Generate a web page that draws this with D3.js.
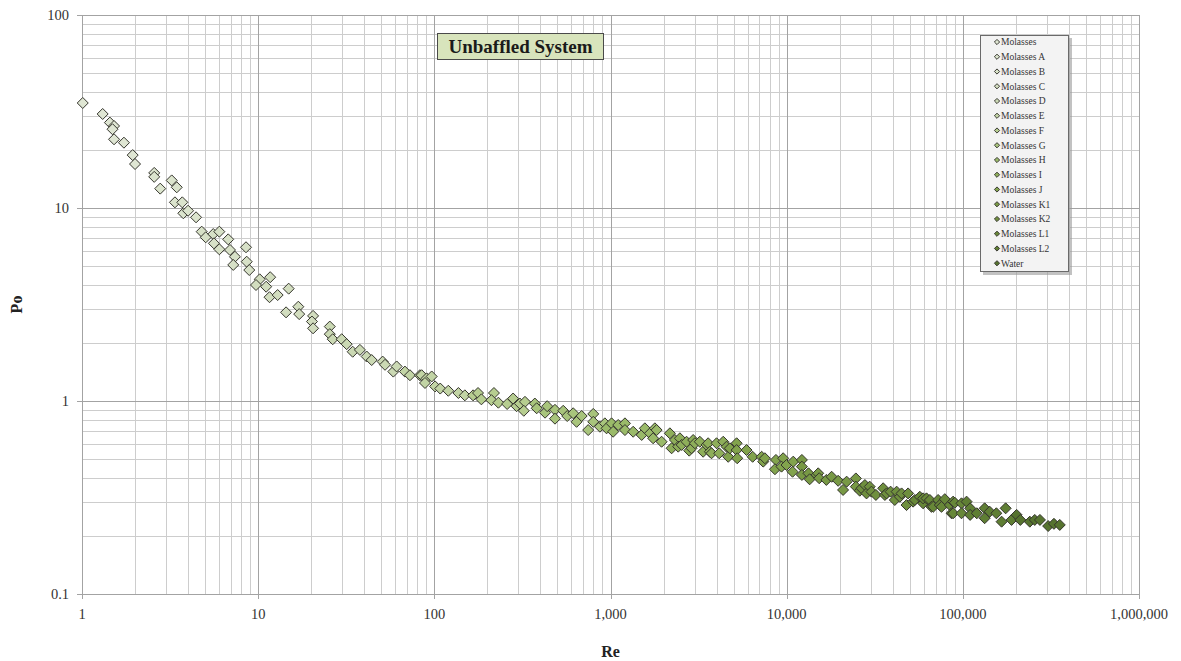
<!DOCTYPE html>
<html>
<head>
<meta charset="utf-8">
<script src="https://cdn.jsdelivr.net/npm/d3@7"></script>
<style>
    html, body { margin: 0; padding: 0; background: #ffffff; }
    svg { display: block; }
</style>
</head>
<body>
<svg id="chart" width="1181" height="661"></svg>
<script>
// Re / Po readings, one array per run
var molasses = [[1.01, 35.0], [1.31, 30.7], [1.44, 27.7], [1.52, 26.6], [1.49, 25.6], [1.52, 22.7], [1.73, 21.8], [1.94, 18.8], [2.0, 16.9]];
var molassesA = [[2.57, 15.2], [2.57, 14.5], [2.78, 12.6], [3.23, 13.9], [3.45, 12.8], [3.37, 10.7], [3.71, 10.7], [3.76, 9.39], [4.0, 9.68], [4.44, 8.95]];
var molassesB = [[4.78, 7.54], [5.04, 7.05], [5.56, 7.33], [6.02, 7.54], [5.61, 6.56], [6.02, 6.11], [6.76, 6.88], [6.92, 6.06], [7.38, 5.59], [7.22, 5.07], [8.53, 6.26], [8.61, 5.27], [8.9, 4.77]];
var molassesC = [[10.2, 4.27], [9.72, 3.99], [11.1, 3.91], [11.7, 4.38], [11.6, 3.45], [12.9, 3.54], [14.9, 3.82], [14.4, 2.88], [16.9, 3.08], [17.1, 2.82], [20.5, 2.76], [20.2, 2.58], [20.5, 2.38]];
var molassesD = [[25.5, 2.43], [25.5, 2.22], [26.5, 2.09], [29.8, 2.09], [31.8, 1.97], [34.4, 1.80], [37.8, 1.84], [41.3, 1.70], [44.1, 1.63], [50.9, 1.60], [52.5, 1.54], [58.5, 1.42], [61.1, 1.51]];
var molassesE = [[68.1, 1.42], [72.7, 1.36], [82.8, 1.36], [84.7, 1.36], [90.4, 1.31], [96.6, 1.34], [88.5, 1.24], [101, 1.19], [108, 1.16], [120, 1.13], [137, 1.10], [149, 1.07]];
var molassesF = [[166, 1.07], [177, 1.10], [185, 1.02], [218, 1.10], [211, 1.01], [231, 0.98], [259, 0.965], [280, 1.03], [293, 0.94], [306, 0.97], [327, 0.99], [322, 0.89]];
var molassesG = [[372, 0.97], [381, 0.917], [425, 0.87], [437, 0.94], [484, 0.90], [484, 0.81], [539, 0.89], [568, 0.836], [614, 0.864], [642, 0.78], [686, 0.836], [747, 0.707], [798, 0.857], [798, 0.78], [871, 0.736], [929, 0.766]];
var molassesH = [[950, 0.722], [1014, 0.766], [1035, 0.693], [1106, 0.751], [1208, 0.766], [1208, 0.707], [1345, 0.693], [1503, 0.667], [1567, 0.722], [1675, 0.68], [1746, 0.641], [1786, 0.722], [1827, 0.707], [1950, 0.615]];
var molassesI = [[2173, 0.68], [2223, 0.569], [2322, 0.628], [2477, 0.641], [2423, 0.58], [2535, 0.592], [2703, 0.615], [2798, 0.553], [2885, 0.569], [2946, 0.628], [3013, 0.604], [3214, 0.615], [3357, 0.546], [3510, 0.592], [3583, 0.604], [3665, 0.546], [3746, 0.536], [4000, 0.604], [4140, 0.536], [4365, 0.615]];
var molassesJ = [[4560, 0.58], [4658, 0.514], [4760, 0.569], [5200, 0.604], [5200, 0.557], [5240, 0.505], [5920, 0.557], [6410, 0.514], [7210, 0.514], [7360, 0.485], [7520, 0.505], [8690, 0.495], [8580, 0.443], [9550, 0.505], [9350, 0.457], [9980, 0.466], [10800, 0.43], [10900, 0.485]];
var molassesK1 = [[12200, 0.495], [12200, 0.457], [12200, 0.414], [13300, 0.422], [13500, 0.393], [14800, 0.414], [15100, 0.422], [15300, 0.398], [16800, 0.39], [18000, 0.405], [19600, 0.386], [20900, 0.346], [21900, 0.382], [24700, 0.397], [24700, 0.36]];
var molassesK2 = [[26000, 0.343], [26600, 0.353], [27800, 0.367], [28400, 0.332], [29600, 0.36], [30300, 0.339], [32100, 0.326], [35300, 0.353], [36100, 0.326], [36900, 0.332], [38900, 0.339], [41100, 0.307], [42100, 0.339], [43900, 0.319], [44900, 0.332], [48900, 0.332], [47900, 0.289]];
var molassesL1 = [[52200, 0.301], [53400, 0.307], [57000, 0.319], [59500, 0.295], [59500, 0.313], [62200, 0.313], [65000, 0.307], [66400, 0.283], [67900, 0.283], [72400, 0.307], [74000, 0.289], [75700, 0.283], [79000, 0.31], [84400, 0.289], [86300, 0.262], [88100, 0.301], [88100, 0.262], [90100, 0.297], [98300, 0.295], [98300, 0.262]];
var molassesL2 = [[105000, 0.301], [110000, 0.278], [110000, 0.257], [120000, 0.262], [133000, 0.278], [133000, 0.247], [142000, 0.267], [155000, 0.262], [166000, 0.237], [175000, 0.278], [189000, 0.242]];
var water = [[202000, 0.257], [212000, 0.242], [240000, 0.237], [256000, 0.242], [274000, 0.242], [305000, 0.225], [329000, 0.231], [355000, 0.228]];

var seriesNames = ['Molasses', 'Molasses A', 'Molasses B', 'Molasses C', 'Molasses D', 'Molasses E', 'Molasses F', 'Molasses G',
    'Molasses H', 'Molasses I', 'Molasses J', 'Molasses K1', 'Molasses K2', 'Molasses L1', 'Molasses L2', 'Water'];
var seriesData = [molasses, molassesA, molassesB, molassesC, molassesD, molassesE, molassesF, molassesG,
    molassesH, molassesI, molassesJ, molassesK1, molassesK2, molassesL1, molassesL2, water];
var seriesColors = ['#dfe6d3', '#dbe4cd', '#d7e1c7', '#d2ddbf', '#cbd9b4', '#c2d4a5', '#b6cd90', '#a8c47c',
    '#9aba69', '#8eae5a', '#82a34d', '#789945', '#6f8f3e', '#678738', '#5f7e34', '#56732f'];

var xTickLabels = [1, 10, 100, 1000, 10000, 100000, 1000000];
var yTickLabels = [0.1, 1, 10, 100];

var chartTitle = 'Unbaffled System';
var xTitle = 'Re';
var yTitle = 'Po';

var config = {
    width: 1181,
    height: 661,
    margin: {top: 15, right: 42, bottom: 67, left: 82},
    font: '"Liberation Serif", "Times New Roman", serif'
};

var svg = d3.select('#chart');
var plotW = config.width - config.margin.left - config.margin.right;
var plotH = config.height - config.margin.top - config.margin.bottom;

var x = d3.scaleLog().domain([1, 1000000]).range([config.margin.left, config.margin.left + plotW]);
var y = d3.scaleLog().domain([0.1, 100]).range([config.margin.top + plotH, config.margin.top]);

function isMajor(v) {
    var l = Math.log10(v);
    return Math.abs(l - Math.round(l)) < 1e-9;
}

// grid: minor first, majors on top
var grid = svg.append('g').attr('class', 'grid');
var xGrid = x.ticks();
var yGrid = y.ticks();

grid.selectAll('.vminor')
    .data(xGrid.filter(function (d) { return !isMajor(d); }))
    .enter()
    .append('line')
    .attr('x1', function (d) { return Math.round(x(d)) + 0.5; })
    .attr('x2', function (d) { return Math.round(x(d)) + 0.5; })
    .attr('y1', y(100))
    .attr('y2', y(0.1))
    .style('stroke', '#cdcdcd');

grid.selectAll('.hminor')
    .data(yGrid.filter(function (d) { return !isMajor(d); }))
    .enter()
    .append('line')
    .attr('x1', x(1))
    .attr('x2', x(1000000))
    .attr('y1', function (d) { return Math.round(y(d)) + 0.5; })
    .attr('y2', function (d) { return Math.round(y(d)) + 0.5; })
    .style('stroke', '#cdcdcd');

grid.selectAll('.vmajor')
    .data(xTickLabels)
    .enter()
    .append('line')
    .attr('x1', function (d) { return Math.round(x(d)) + 0.5; })
    .attr('x2', function (d) { return Math.round(x(d)) + 0.5; })
    .attr('y1', y(100))
    .attr('y2', y(0.1) + 5)
    .style('stroke', '#a3a3a3');

grid.selectAll('.hmajor')
    .data(yTickLabels)
    .enter()
    .append('line')
    .attr('x1', x(1) - 5)
    .attr('x2', x(1000000))
    .attr('y1', function (d) { return Math.round(y(d)) + 0.5; })
    .attr('y2', function (d) { return Math.round(y(d)) + 0.5; })
    .style('stroke', '#a3a3a3');

// tick labels
var labels = svg.append('g').attr('class', 'tick-labels')
    .style('font-family', config.font)
    .style('font-size', '14.5px')
    .style('fill', '#333333');

labels.selectAll('.xl')
    .data(xTickLabels)
    .enter()
    .append('text')
    .attr('x', function (d) { return x(d); })
    .attr('y', y(0.1) + 25)
    .attr('text-anchor', 'middle')
    .text(d3.format(','));

labels.selectAll('.yl')
    .data(yTickLabels)
    .enter()
    .append('text')
    .attr('x', x(1) - 13)
    .attr('y', function (d) { return y(d) + 5; })
    .attr('text-anchor', 'end')
    .text(function (d) { return d3.format('~g')(d); });

// axis titles
svg.append('text')
    .attr('x', config.margin.left + plotW / 2)
    .attr('y', 657)
    .attr('text-anchor', 'middle')
    .style('font-family', config.font)
    .style('font-weight', 'bold')
    .style('font-size', '16px')
    .style('fill', '#222')
    .text(xTitle);

svg.append('text')
    .attr('transform', 'translate(22,' + (config.margin.top + plotH / 2) + ') rotate(-90)')
    .attr('text-anchor', 'middle')
    .style('font-family', config.font)
    .style('font-weight', 'bold')
    .style('font-size', '16px')
    .style('fill', '#222')
    .text(yTitle);

// points
var diamond = 'M0,-5.5L5.5,0L0,5.5L-5.5,0Z';
var marks = svg.append('g').attr('class', 'marks');

seriesData.forEach(function (pts, i) {
    marks.append('g')
        .selectAll('path')
        .data(pts)
        .enter()
        .append('path')
        .attr('d', diamond)
        .attr('transform', function (d) { return 'translate(' + x(d[0]) + ',' + y(d[1]) + ')'; })
        .style('fill', seriesColors[i])
        .style('stroke', '#35352d')
        .style('stroke-width', 1);
});

// title box
var titleG = svg.append('g').attr('class', 'title');
titleG.append('rect')
    .attr('x', 437.5)
    .attr('y', 33.5)
    .attr('width', 166)
    .attr('height', 26)
    .style('fill', '#d8e4bc')
    .style('stroke', '#4a4a4a');
titleG.append('text')
    .attr('x', 520.5)
    .attr('y', 53)
    .attr('text-anchor', 'middle')
    .style('font-family', config.font)
    .style('font-weight', 'bold')
    .style('font-size', '19px')
    .style('fill', '#1a1a1a')
    .text(chartTitle);

// legend
var legend = svg.append('g').attr('class', 'legend');
legend.append('rect')
    .attr('x', 983)
    .attr('y', 38)
    .attr('width', 89)
    .attr('height', 237)
    .style('fill', '#9a9a9a')
    .style('opacity', 0.6);
legend.append('rect')
    .attr('x', 980.5)
    .attr('y', 35.5)
    .attr('width', 88)
    .attr('height', 236)
    .style('fill', '#f3f3f3')
    .style('stroke', '#6a6a6a');

var rowH = 14.75;
var items = legend.selectAll('.item')
    .data(seriesNames)
    .enter()
    .append('g')
    .attr('transform', function (d, i) { return 'translate(0,' + (42 + i * rowH) + ')'; });

items.append('path')
    .attr('d', 'M0,-2.6L2.6,0L0,2.6L-2.6,0Z')
    .attr('transform', 'translate(997,0)')
    .style('fill', function (d, i) { return seriesColors[i]; })
    .style('stroke', '#3a3a32')
    .style('stroke-width', 1);

items.append('text')
    .attr('x', 1001)
    .attr('y', 3.3)
    .style('font-family', config.font)
    .style('font-size', '9.5px')
    .style('fill', '#333')
    .text(function (d) { return d; });
</script>
</body>
</html>
